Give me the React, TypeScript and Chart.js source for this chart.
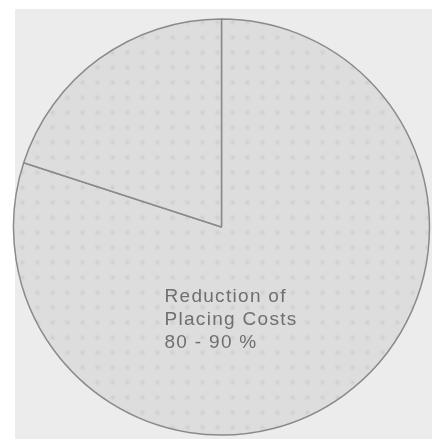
import React, { useEffect, useRef } from "react";
import { Chart, registerables } from "chart.js";

Chart.register(...registerables);

const categories = ["Reduction of Placing Costs", "Other"];
const values = [80, 20];
const labelLines = ["Reduction of", "Placing Costs", "80 - 90 %"];

function makePattern(): CanvasPattern | string {
  const c = document.createElement("canvas");
  c.width = 15;
  c.height = 15;
  const g = c.getContext("2d");
  if (!g) return "#dcdcdc";
  g.fillStyle = "#dddddd";
  g.fillRect(0, 0, 15, 15);
  const grad = g.createRadialGradient(7.5, 7.5, 0, 7.5, 7.5, 4.5);
  grad.addColorStop(0, "#cbcbcb");
  grad.addColorStop(1, "rgba(221,221,221,0)");
  g.fillStyle = grad;
  g.beginPath();
  g.arc(7.5, 7.5, 4.5, 0, Math.PI * 2);
  g.fill();
  const p = g.createPattern(c, "repeat");
  return p || "#dcdcdc";
}

const textPlugin = {
  id: "pieText",
  afterDatasetsDraw(chart: any) {
    const meta = chart.getDatasetMeta(0);
    const arc = meta.data[0];
    if (!arc) return;
    const { x, y } = arc.getProps(["x", "y"], true);
    const ctx = chart.ctx;
    ctx.save();
    ctx.fillStyle = "#6f6f6f";
    ctx.font = "19px 'Liberation Sans', Arial, sans-serif";
    (ctx as any).letterSpacing = "1.3px";
    ctx.textAlign = "left";
    ctx.textBaseline = "middle";
    labelLines.forEach((line, i) => {
      ctx.fillText(line, x - 57, y + 70 + i * 23);
    });
    ctx.restore();
  },
};

export default function App() {
  const ref = useRef<HTMLCanvasElement>(null);
  useEffect(() => {
    if (!ref.current) return;
    const pattern = makePattern();
    const chart = new Chart(ref.current, {
      type: "pie",
      data: {
        labels: categories,
        datasets: [
          {
            data: values,
            backgroundColor: [pattern, pattern] as any,
            borderColor: "#8a8a8a",
            borderWidth: 1.5,
          },
        ],
      },
      options: {
        animation: false,
        responsive: false,
        maintainAspectRatio: false,
        layout: { padding: { left: 12.75, right: 8.75, top: 18.25, bottom: 3.25 } },
        plugins: { legend: { display: false }, tooltip: { enabled: false } },
      },
      plugins: [textPlugin],
    });
    return () => chart.destroy();
  }, []);
  return (
    <div style={{ position: "fixed", left: 0, top: 0, width: 439, height: 439, background: "#ffffff", overflow: "hidden" }}>
      <div style={{ position: "absolute", left: 15, top: 9, width: 417, height: 430, background: "#ececec" }} />
      <canvas ref={ref} width={439} height={439} style={{ position: "absolute", left: 0, top: 0, width: 439, height: 439 }} />
    </div>
  );
}
